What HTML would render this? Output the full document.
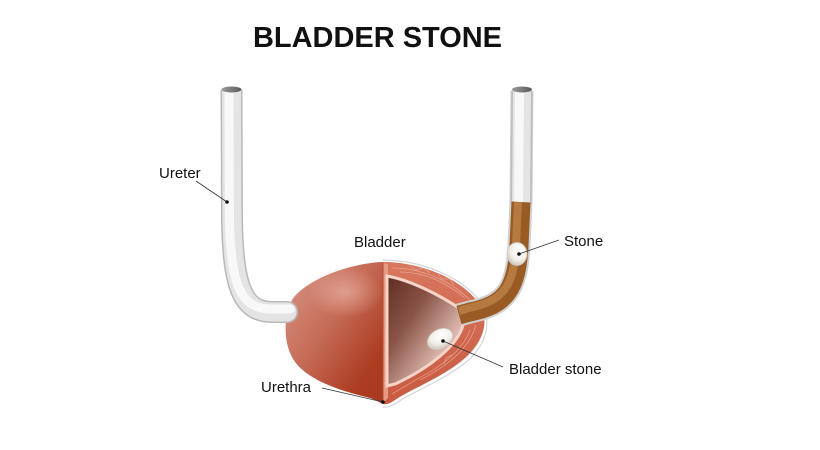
<!DOCTYPE html>
<html><head><meta charset="utf-8"><style>
html,body{margin:0;padding:0;background:#fff;}
svg{display:block;}
text{font-family:"Liberation Sans",sans-serif;fill:#111;}
</style></head><body>
<svg width="820" height="450" viewBox="0 0 820 450" xmlns="http://www.w3.org/2000/svg">
<defs>
  <linearGradient id="lh" x1="0" y1="0" x2="1" y2="1">
    <stop offset="0" stop-color="#d9988a"/>
    <stop offset="0.45" stop-color="#c56a55"/>
    <stop offset="0.8" stop-color="#ad3d22"/>
    <stop offset="1" stop-color="#a8381e"/>
  </linearGradient>
  <radialGradient id="hl" cx="0.5" cy="0.5" r="0.5">
    <stop offset="0" stop-color="#eab3a6" stop-opacity="0.7"/>
    <stop offset="1" stop-color="#eab3a6" stop-opacity="0"/>
  </radialGradient>
  <linearGradient id="rim" x1="0" y1="0" x2="0" y2="1">
    <stop offset="0" stop-color="#d8775f"/>
    <stop offset="1" stop-color="#c85a40"/>
  </linearGradient>
  <linearGradient id="cav" x1="0" y1="0" x2="1" y2="1">
    <stop offset="0" stop-color="#5e2c20"/>
    <stop offset="0.35" stop-color="#8a5548"/>
    <stop offset="0.7" stop-color="#d9b4aa"/>
    <stop offset="1" stop-color="#f6e6e2"/>
  </linearGradient>
  <radialGradient id="stone" cx="0.6" cy="0.35" r="0.7">
    <stop offset="0" stop-color="#ffffff"/>
    <stop offset="0.6" stop-color="#f2efe8"/>
    <stop offset="1" stop-color="#c9c3b8"/>
  </radialGradient>
  <linearGradient id="open" x1="0" y1="0" x2="1" y2="0">
    <stop offset="0" stop-color="#9a9a9a"/>
    <stop offset="1" stop-color="#5a5a5a"/>
  </linearGradient>
</defs>

<!-- Title -->
<text x="253" y="47" font-size="29" font-weight="bold" textLength="249" lengthAdjust="spacingAndGlyphs">BLADDER STONE</text>

<!-- Bladder right halo -->
<path d="M383,262 C420,262 460,278 478,302 C492,322 484,346 462,363 C441,379 411,391 399,399 C393,403 389,406 383,405" fill="none" stroke="#d6d6d6" stroke-width="5"/>
<path d="M383,262 C420,262 460,278 478,302 C492,322 484,346 462,363 C441,379 411,391 399,399 C393,403 389,406 383,405" fill="none" stroke="#fff" stroke-width="2.5"/>

<!-- Bladder left half -->
<path d="M383,262 C350,263 305,280 292,300 C283,318 283,345 295,362 C310,382 345,392 370,398 C377,400 380,403 383,404 Z" fill="url(#lh)"/>
<ellipse cx="345" cy="292" rx="38" ry="26" fill="url(#hl)"/>

<!-- Bladder right half rim -->
<path d="M383,262 C420,262 460,278 478,302 C492,322 482,345 460,362 C440,378 410,390 398,398 C392,402 388,405 383,404 Z" fill="url(#rim)"/>
<g stroke="#eeb2a2" stroke-width="0.7" fill="none" opacity="0.8">
  <path d="M392,268 C420,268 450,280 470,300"/>
  <path d="M400,272 C425,272 445,282 465,298"/>
  <path d="M410,266 l6,4 l8,-2 l6,5"/>
  <path d="M438,274 l4,5 l8,0 l4,6"/>
  <path d="M470,330 C465,345 450,360 430,372"/>
  <path d="M476,325 C470,345 455,362 420,380"/>
  <path d="M452,355 l-6,3 l-2,6"/>
  <path d="M430,372 C415,380 402,388 392,394"/>
</g>
<!-- cut wall strip -->
<path d="M383,263 L388,264 L388,398 L383,403 Z" fill="#e59a84"/>
<line x1="383" y1="263" x2="383" y2="403" stroke="#b54a30" stroke-width="1"/>

<!-- Cavity -->
<path d="M387,276 C410,280 440,295 462,310 L463,325 C458,345 430,368 395,384 L387,386 Z" fill="url(#cav)" stroke="#f6d4c8" stroke-width="3"/>

<!-- Bladder stone -->
<ellipse cx="440" cy="339" rx="13.5" ry="9.5" transform="rotate(-30 440 339)" fill="url(#stone)" stroke="#cfc8be" stroke-width="0.6"/>

<!-- Left ureter -->
<circle cx="287" cy="312" r="11" fill="#b9b9b9"/>
<path d="M231.5,90 L232,220 C233,285 242,312 272,312 L287,312" fill="none" stroke="#b9b9b9" stroke-width="22" stroke-linejoin="round"/>
<circle cx="287" cy="312" r="9.5" fill="#e4e4e4"/>
<path d="M231.5,90 L232,220 C233,285 242,312 272,312 L287,312" fill="none" stroke="#e4e4e4" stroke-width="19" stroke-linejoin="round"/>
<path d="M229,90 L229.5,220 C230.5,282 240,309 270,309 L290,309" fill="none" stroke="#f8f8f8" stroke-width="9" stroke-linecap="round" stroke-linejoin="round"/>
<ellipse cx="231.5" cy="89.5" rx="10" ry="3" fill="url(#open)"/>

<!-- Right ureter -->
<g fill="none" stroke-linejoin="round">
  <path d="M522,91 L521,203 L519,245 C517,290 505,305 470,312 L459,315" stroke="#d0d0d0" stroke-width="23"/>
  <path d="M522,91 L521,204" stroke="#bdbdbd" stroke-width="21"/>
  <path d="M522,91 L521,204" stroke="#e4e4e4" stroke-width="18"/>
  <path d="M519.5,91 L518.5,204" stroke="#f8f8f8" stroke-width="9"/>
  <path d="M521,202 L519,245 C517,290 505,305 470,312 L459,315" stroke="#9a5a24" stroke-width="19"/>
  <path d="M518,202 L516,245 C514,287 503,301 469,308 L459,311" stroke="#b57a40" stroke-width="8"/>
</g>
<ellipse cx="522" cy="89.5" rx="10" ry="3" fill="url(#open)"/>
<!-- Ureter stone -->
<ellipse cx="517" cy="254" rx="10" ry="11.5" fill="url(#stone)" stroke="#c8c8c8" stroke-width="0.8"/>

<!-- Leader lines -->
<g stroke="#333" stroke-width="0.8">
  <line x1="196" y1="181" x2="227" y2="202"/>
  <line x1="559" y1="240" x2="519" y2="254"/>
  <line x1="503" y1="367" x2="443" y2="341"/>
  <line x1="322" y1="388" x2="383" y2="402"/>
</g>
<g fill="#111">
  <circle cx="227" cy="202" r="1.8"/>
  <circle cx="519" cy="254" r="1.8"/>
  <circle cx="443" cy="341" r="1.8"/>
  <circle cx="383" cy="402" r="1.8"/>
</g>

<!-- Labels -->
<g font-size="15">
  <text x="159" y="178">Ureter</text>
  <text x="354" y="247">Bladder</text>
  <text x="564" y="246">Stone</text>
  <text x="509" y="374">Bladder stone</text>
  <text x="261" y="392">Urethra</text>
</g>
</svg>
</body></html>
